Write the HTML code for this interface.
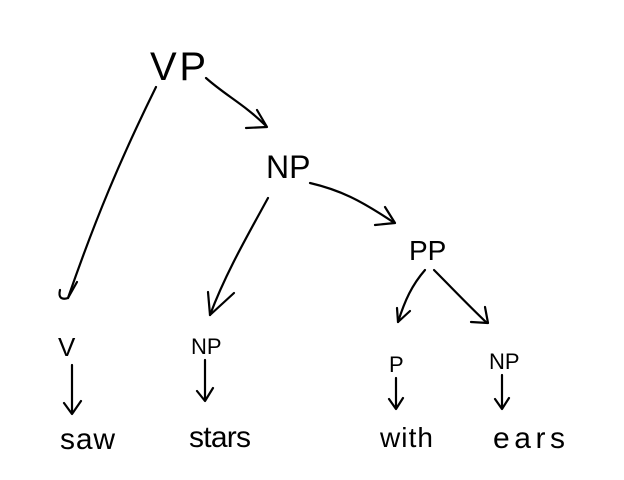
<!DOCTYPE html>
<html><head><style>body{margin:0;background:#fff}svg{display:block}</style></head><body>
<svg width="624" height="480" viewBox="0 0 624 480" xmlns="http://www.w3.org/2000/svg">
<g fill="none" stroke="#000" stroke-width="2.2" stroke-linecap="round" stroke-linejoin="round">
<path d="M156,87 C120,160 95,220 68,298"/>
<path d="M60,290 C58,298 62,300 68,298 M68,298 L77,282"/>
<path d="M206,78 C225,95 245,105 265,125"/>
<path d="M246,128 L267,127 L257,110"/>
<path d="M268,198 C245,240 225,275 210,315"/>
<path d="M210,315 L234,293 M210,315 L208,292"/>
<path d="M310,183 C340,190 360,200 393,222"/>
<path d="M375,225 L395,223 L385,207"/>
<path d="M425,270 C412,285 405,300 398,322"/>
<path d="M398,322 L410,311 M398,322 L397,308"/>
<path d="M434,270 C452,288 468,305 487,323"/>
<path d="M471,322 L488,323 L485,307"/>
<path d="M72,365 L72,413 M64,403 L72,414 L81,401"/>
<path d="M205,360 L205,400 M197,391 L205,401 L213,388"/>
<path d="M396,378 L396,408 M389,399 L396,409 L403,398"/>
<path d="M502,375 L502,408 M495,399 L502,409 L509,398"/>
</g>
<g font-family="Liberation Sans, sans-serif" fill="#000">
<text x="150" y="80" font-size="40" textLength="56">VP</text>
<text x="266" y="178" font-size="32">NP</text>
<text x="409" y="260" font-size="28">PP</text>
<text x="58" y="356" font-size="26">V</text>
<text x="191" y="354" font-size="22">NP</text>
<text x="389" y="372" font-size="22">P</text>
<text x="489" y="369" font-size="22">NP</text>
<text x="60" y="449" font-size="30" textLength="55">saw</text>
<text x="189" y="447" font-size="30" textLength="62">stars</text>
<text x="380" y="447" font-size="28" textLength="53">with</text>
<text x="493" y="448" font-size="30" textLength="72">ears</text>
</g>
</svg>
</body></html>
